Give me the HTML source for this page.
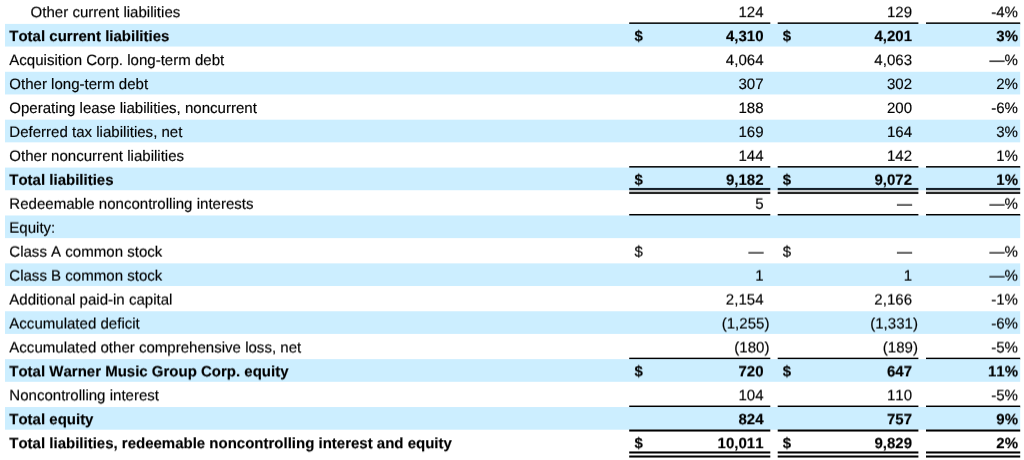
<!DOCTYPE html>
<html><head><meta charset="utf-8"><title>Balance sheet</title>
<style>
html,body{margin:0;padding:0;background:#fff}
body{width:1024px;height:460px;position:relative;overflow:hidden;font-family:"Liberation Sans",Arial,sans-serif;font-size:15.05px;color:#000;font-kerning:none;font-variant-ligatures:none;text-rendering:geometricPrecision;-webkit-text-stroke:0.15px #000}
svg{position:absolute;left:0;top:0}
.r{position:absolute;left:0;width:1024px;height:23px;line-height:23px;white-space:nowrap}
.b{font-weight:bold;font-size:15.01px}
.r span{position:absolute;top:0}
.d1{left:634.5px}
.d2{left:782.7px}
.v1{right:260.5px}
.v2{right:112px}
.v3{right:6px}
.v1.h{right:259.6px}
.v2.h{right:111.1px}
.r span.p{position:absolute;left:100%;top:0}
</style></head><body>
<svg width="1024" height="460" viewBox="0 0 1024 460">
<defs>
<filter id="s0" x="0" y="-0.2" width="1" height="1.4" color-interpolation-filters="sRGB"><feConvolveMatrix order="1 2" targetX="0" targetY="1" kernelMatrix="0.800 0.200" edgeMode="none" preserveAlpha="false"/></filter>
<filter id="s1" x="0" y="-0.2" width="1" height="1.4" color-interpolation-filters="sRGB"><feConvolveMatrix order="1 2" targetX="0" targetY="1" kernelMatrix="0.853 0.147" edgeMode="none" preserveAlpha="false"/></filter>
<filter id="s2" x="0" y="-0.2" width="1" height="1.4" color-interpolation-filters="sRGB"><feConvolveMatrix order="1 2" targetX="0" targetY="1" kernelMatrix="0.906 0.094" edgeMode="none" preserveAlpha="false"/></filter>
<filter id="s3" x="0" y="-0.2" width="1" height="1.4" color-interpolation-filters="sRGB"><feConvolveMatrix order="1 2" targetX="0" targetY="1" kernelMatrix="0.959 0.041" edgeMode="none" preserveAlpha="false"/></filter>
<filter id="s4" x="0" y="-0.2" width="1" height="1.4" color-interpolation-filters="sRGB"><feConvolveMatrix order="1 2" targetX="0" targetY="1" kernelMatrix="0.012 0.988" edgeMode="none" preserveAlpha="false"/></filter>
<filter id="s5" x="0" y="-0.2" width="1" height="1.4" color-interpolation-filters="sRGB"><feConvolveMatrix order="1 2" targetX="0" targetY="1" kernelMatrix="0.065 0.935" edgeMode="none" preserveAlpha="false"/></filter>
<filter id="s6" x="0" y="-0.2" width="1" height="1.4" color-interpolation-filters="sRGB"><feConvolveMatrix order="1 2" targetX="0" targetY="1" kernelMatrix="0.118 0.882" edgeMode="none" preserveAlpha="false"/></filter>
<filter id="s7" x="0" y="-0.2" width="1" height="1.4" color-interpolation-filters="sRGB"><feConvolveMatrix order="1 2" targetX="0" targetY="1" kernelMatrix="0.171 0.829" edgeMode="none" preserveAlpha="false"/></filter>
<filter id="s8" x="0" y="-0.2" width="1" height="1.4" color-interpolation-filters="sRGB"><feConvolveMatrix order="1 2" targetX="0" targetY="1" kernelMatrix="0.224 0.776" edgeMode="none" preserveAlpha="false"/></filter>
<filter id="s9" x="0" y="-0.2" width="1" height="1.4" color-interpolation-filters="sRGB"><feConvolveMatrix order="1 2" targetX="0" targetY="1" kernelMatrix="0.277 0.723" edgeMode="none" preserveAlpha="false"/></filter>
<filter id="s10" x="0" y="-0.2" width="1" height="1.4" color-interpolation-filters="sRGB"><feConvolveMatrix order="1 2" targetX="0" targetY="1" kernelMatrix="0.330 0.670" edgeMode="none" preserveAlpha="false"/></filter>
<filter id="s11" x="0" y="-0.2" width="1" height="1.4" color-interpolation-filters="sRGB"><feConvolveMatrix order="1 2" targetX="0" targetY="1" kernelMatrix="0.383 0.617" edgeMode="none" preserveAlpha="false"/></filter>
<filter id="s12" x="0" y="-0.2" width="1" height="1.4" color-interpolation-filters="sRGB"><feConvolveMatrix order="1 2" targetX="0" targetY="1" kernelMatrix="0.436 0.564" edgeMode="none" preserveAlpha="false"/></filter>
<filter id="s13" x="0" y="-0.2" width="1" height="1.4" color-interpolation-filters="sRGB"><feConvolveMatrix order="1 2" targetX="0" targetY="1" kernelMatrix="0.489 0.511" edgeMode="none" preserveAlpha="false"/></filter>
<filter id="s14" x="0" y="-0.2" width="1" height="1.4" color-interpolation-filters="sRGB"><feConvolveMatrix order="1 2" targetX="0" targetY="1" kernelMatrix="0.542 0.458" edgeMode="none" preserveAlpha="false"/></filter>
<filter id="s15" x="0" y="-0.2" width="1" height="1.4" color-interpolation-filters="sRGB"><feConvolveMatrix order="1 2" targetX="0" targetY="1" kernelMatrix="0.595 0.405" edgeMode="none" preserveAlpha="false"/></filter>
<filter id="s16" x="0" y="-0.2" width="1" height="1.4" color-interpolation-filters="sRGB"><feConvolveMatrix order="1 2" targetX="0" targetY="1" kernelMatrix="0.648 0.352" edgeMode="none" preserveAlpha="false"/></filter>
<filter id="s17" x="0" y="-0.2" width="1" height="1.4" color-interpolation-filters="sRGB"><feConvolveMatrix order="1 2" targetX="0" targetY="1" kernelMatrix="0.701 0.299" edgeMode="none" preserveAlpha="false"/></filter>
<filter id="s18" x="0" y="-0.2" width="1" height="1.4" color-interpolation-filters="sRGB"><feConvolveMatrix order="1 2" targetX="0" targetY="1" kernelMatrix="0.754 0.246" edgeMode="none" preserveAlpha="false"/></filter>
</defs>
<rect x="629.2" y="22.40" width="141.1" height="2.05" fill="#000"/>
<rect x="777.7" y="22.40" width="140.7" height="2.05" fill="#000"/>
<rect x="926" y="22.40" width="94.2" height="2.05" fill="#000"/>
<rect x="5" y="23.90" width="1015.2" height="22.65" fill="#cceeff"/>
<rect x="5" y="71.79" width="1015.2" height="22.65" fill="#cceeff"/>
<rect x="5" y="119.69" width="1015.2" height="22.65" fill="#cceeff"/>
<rect x="629.2" y="166.08" width="141.1" height="2.05" fill="#000"/>
<rect x="777.7" y="166.08" width="140.7" height="2.05" fill="#000"/>
<rect x="926" y="166.08" width="94.2" height="2.05" fill="#000"/>
<rect x="5" y="167.58" width="1015.2" height="22.65" fill="#cceeff"/>
<rect x="629.2" y="187.93" width="141.1" height="2.05" fill="#15202a"/>
<rect x="629.2" y="189.98" width="141.1" height="2" fill="#c6cacc"/>
<rect x="629.2" y="191.98" width="141.1" height="2.05" fill="#262626"/>
<rect x="777.7" y="187.93" width="140.7" height="2.05" fill="#15202a"/>
<rect x="777.7" y="189.98" width="140.7" height="2" fill="#c6cacc"/>
<rect x="777.7" y="191.98" width="140.7" height="2.05" fill="#262626"/>
<rect x="926" y="187.93" width="94.2" height="2.05" fill="#15202a"/>
<rect x="926" y="189.98" width="94.2" height="2" fill="#c6cacc"/>
<rect x="926" y="191.98" width="94.2" height="2.05" fill="#262626"/>
<rect x="629.2" y="213.98" width="141.1" height="2.05" fill="#000"/>
<rect x="777.7" y="213.98" width="140.7" height="2.05" fill="#000"/>
<rect x="926" y="213.98" width="94.2" height="2.05" fill="#000"/>
<rect x="5" y="215.47" width="1015.2" height="22.65" fill="#cceeff"/>
<rect x="5" y="263.37" width="1015.2" height="22.65" fill="#cceeff"/>
<rect x="5" y="311.26" width="1015.2" height="22.65" fill="#cceeff"/>
<rect x="629.2" y="357.66" width="141.1" height="2.05" fill="#000"/>
<rect x="777.7" y="357.66" width="140.7" height="2.05" fill="#000"/>
<rect x="926" y="357.66" width="94.2" height="2.05" fill="#000"/>
<rect x="5" y="359.15" width="1015.2" height="22.65" fill="#cceeff"/>
<rect x="629.2" y="405.55" width="141.1" height="2.05" fill="#000"/>
<rect x="777.7" y="405.55" width="140.7" height="2.05" fill="#000"/>
<rect x="926" y="405.55" width="94.2" height="2.05" fill="#000"/>
<rect x="5" y="407.05" width="1015.2" height="22.65" fill="#cceeff"/>
<rect x="629.2" y="429.50" width="141.1" height="2.05" fill="#000"/>
<rect x="777.7" y="429.50" width="140.7" height="2.05" fill="#000"/>
<rect x="926" y="429.50" width="94.2" height="2.05" fill="#000"/>
<rect x="629.2" y="451.45" width="141.1" height="2.05" fill="#000"/>
<rect x="629.2" y="455.50" width="141.1" height="2.05" fill="#000"/>
<rect x="777.7" y="451.45" width="140.7" height="2.05" fill="#000"/>
<rect x="777.7" y="455.50" width="140.7" height="2.05" fill="#000"/>
<rect x="926" y="451.45" width="94.2" height="2.05" fill="#000"/>
<rect x="926" y="455.50" width="94.2" height="2.05" fill="#000"/>
</svg>
<div class="r" style="top:1.00px;filter:url(#s0)"><span class="l" style="left:30.6px">Other current liabilities</span><span class="v1">124</span><span class="v2">129</span><span class="v3">-4%</span></div>
<div class="r b" style="top:25.00px;filter:url(#s1)"><span class="l" style="left:9.3px">Total current liabilities</span><span class="d1">$</span><span class="v1">4,310</span><span class="d2">$</span><span class="v2">4,201</span><span class="v3">3%</span></div>
<div class="r" style="top:49.00px;filter:url(#s2)"><span class="l" style="left:9.3px">Acquisition Corp. long-term debt</span><span class="v1">4,064</span><span class="v2">4,063</span><span class="v3">—%</span></div>
<div class="r" style="top:73.00px;filter:url(#s3)"><span class="l" style="left:9.3px">Other long-term debt</span><span class="v1">307</span><span class="v2">302</span><span class="v3">2%</span></div>
<div class="r" style="top:96.00px;filter:url(#s4)"><span class="l" style="left:9.3px">Operating lease liabilities, noncurrent</span><span class="v1">188</span><span class="v2">200</span><span class="v3">-6%</span></div>
<div class="r" style="top:120.00px;filter:url(#s5)"><span class="l" style="left:9.3px">Deferred tax liabilities, net</span><span class="v1">169</span><span class="v2">164</span><span class="v3">3%</span></div>
<div class="r" style="top:144.00px;filter:url(#s6)"><span class="l" style="left:9.3px">Other noncurrent liabilities</span><span class="v1">144</span><span class="v2">142</span><span class="v3">1%</span></div>
<div class="r b" style="top:168.00px;filter:url(#s7)"><span class="l" style="left:9.3px">Total liabilities</span><span class="d1">$</span><span class="v1">9,182</span><span class="d2">$</span><span class="v2">9,072</span><span class="v3">1%</span></div>
<div class="r" style="top:192.00px;filter:url(#s8)"><span class="l" style="left:9.3px">Redeemable noncontrolling interests</span><span class="v1">5</span><span class="v2">—</span><span class="v3">—%</span></div>
<div class="r" style="top:216.00px;filter:url(#s9)"><span class="l" style="left:9.3px">Equity:</span></div>
<div class="r" style="top:240.00px;filter:url(#s10)"><span class="l" style="left:9.3px">Class A common stock</span><span class="d1">$</span><span class="v1">—</span><span class="d2">$</span><span class="v2">—</span><span class="v3">—%</span></div>
<div class="r" style="top:264.00px;filter:url(#s11)"><span class="l" style="left:9.3px">Class B common stock</span><span class="v1">1</span><span class="v2">1</span><span class="v3">—%</span></div>
<div class="r" style="top:288.00px;filter:url(#s12)"><span class="l" style="left:9.3px">Additional paid-in capital</span><span class="v1">2,154</span><span class="v2">2,166</span><span class="v3">-1%</span></div>
<div class="r" style="top:312.00px;filter:url(#s13)"><span class="l" style="left:9.3px">Accumulated deficit</span><span class="v1 h">(1,255<span class="p">)</span></span><span class="v2 h">(1,331<span class="p">)</span></span><span class="v3">-6%</span></div>
<div class="r" style="top:336.00px;filter:url(#s14)"><span class="l" style="left:9.3px">Accumulated other comprehensive loss, net</span><span class="v1 h">(180<span class="p">)</span></span><span class="v2 h">(189<span class="p">)</span></span><span class="v3">-5%</span></div>
<div class="r b" style="top:360.00px;filter:url(#s15)"><span class="l" style="left:9.3px">Total Warner Music Group Corp. equity</span><span class="d1">$</span><span class="v1">720</span><span class="d2">$</span><span class="v2">647</span><span class="v3">11%</span></div>
<div class="r" style="top:384.00px;filter:url(#s16)"><span class="l" style="left:9.3px">Noncontrolling interest</span><span class="v1">104</span><span class="v2">110</span><span class="v3">-5%</span></div>
<div class="r b" style="top:408.00px;filter:url(#s17)"><span class="l" style="left:9.3px">Total equity</span><span class="v1">824</span><span class="v2">757</span><span class="v3">9%</span></div>
<div class="r b" style="top:432.00px;filter:url(#s18)"><span class="l" style="left:9.3px">Total liabilities, redeemable noncontrolling interest and equity</span><span class="d1">$</span><span class="v1">10,011</span><span class="d2">$</span><span class="v2">9,829</span><span class="v3">2%</span></div>
</body></html>
